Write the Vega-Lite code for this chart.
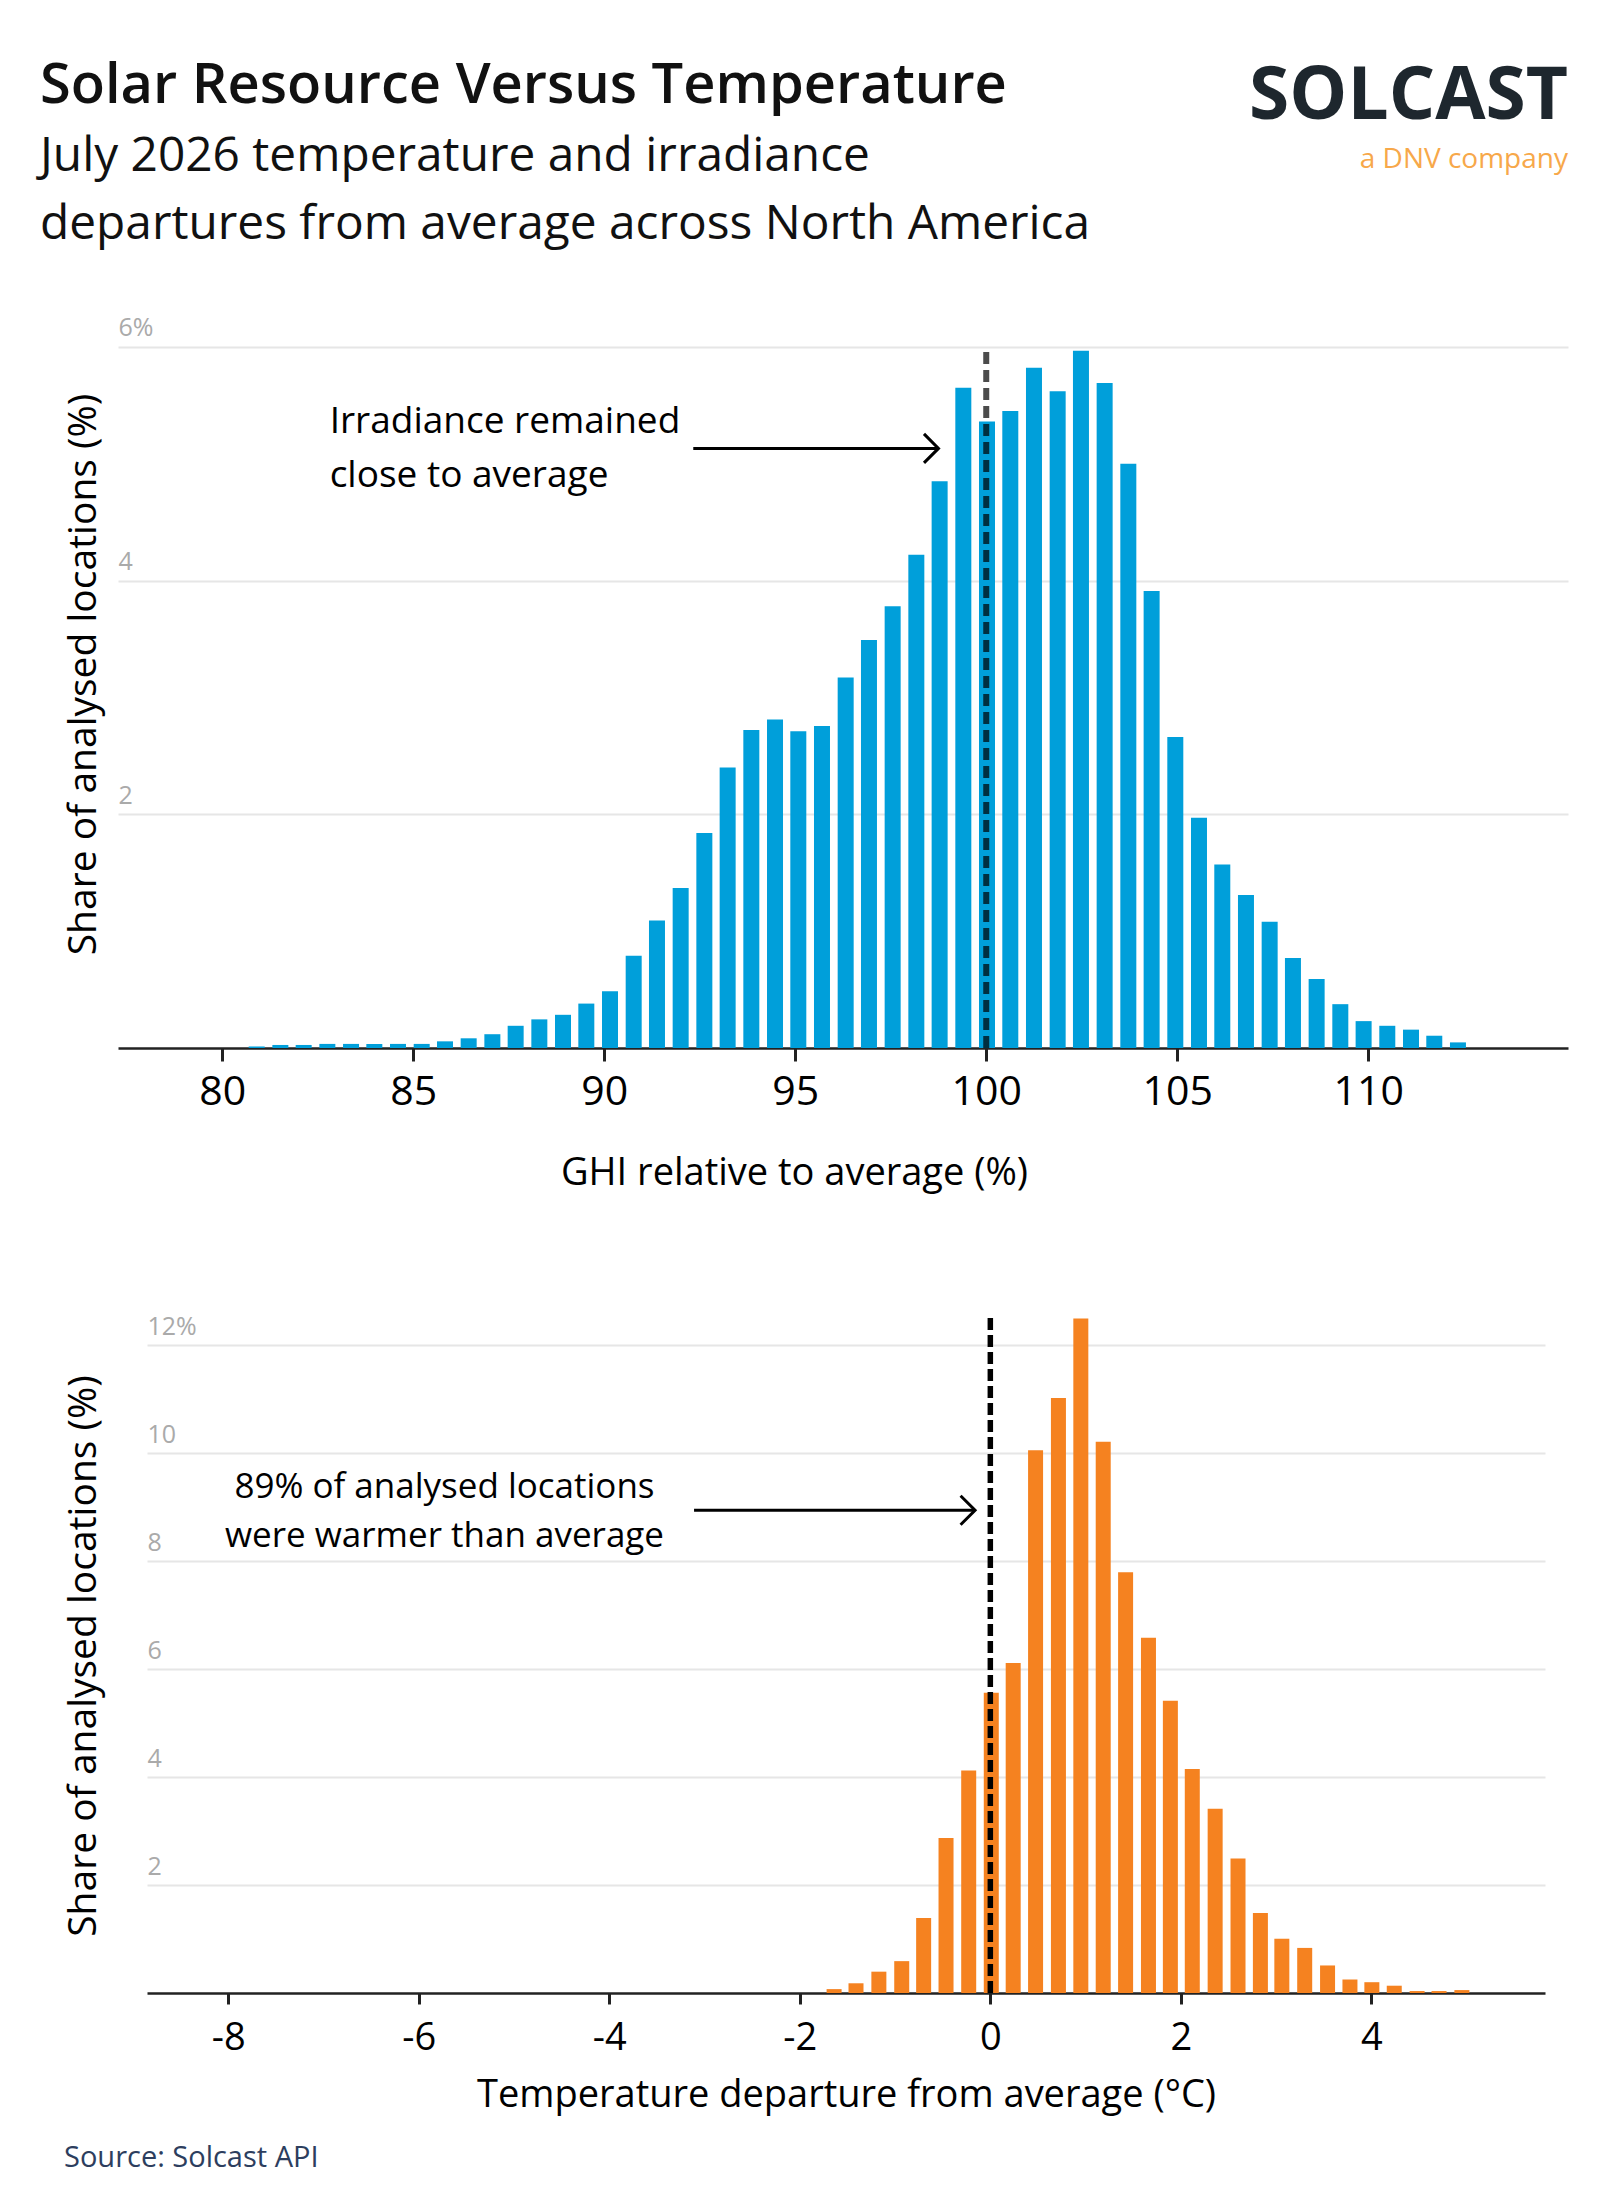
{
  "$schema": "https://vega.github.io/schema/vega-lite/v6.json",
  "usermeta": {"embedOptions": {"actions": false}},
  "background": "white",
  "padding": {"left": 40, "top": 58, "right": 45, "bottom": 30},
  "title": {
    "text": "Solar Resource Versus Temperature",
    "subtitle": ["July 2026 temperature and irradiance", "departures from average across North America"],
    "anchor": "start",
    "frame": "bounds",
    "dx": -24,
    "offset": -189,
    "fontSize": 56,
    "fontWeight": 600,
    "color": "#111111",
    "subtitleFontSize": 47.8,
    "subtitleFontWeight": "normal",
    "subtitleColor": "#111111",
    "subtitleLineHeight": 68,
    "subtitlePadding": 18
  },
  "columns": 1,
  "spacing": 122,
  "concat": [
    {
      "width": 1450,
      "height": 748,
      "title": {
        "text": "SOLCAST",
        "subtitle": "a DNV company",
        "anchor": "end",
        "frame": "group",
        "orient": "top",
        "fontSize": 73,
        "fontWeight": "bold",
        "color": "#1e272e",
        "subtitleFontSize": 28,
        "subtitleColor": "#f7a84a",
        "subtitlePadding": 12,
        "offset": 126
      },
      "data": {"values": [
        {"ghi": 80.90, "share": 0.013}, {"ghi": 81.52, "share": 0.026}, {"ghi": 82.13, "share": 0.026},
        {"ghi": 82.75, "share": 0.035}, {"ghi": 83.37, "share": 0.035}, {"ghi": 83.98, "share": 0.035},
        {"ghi": 84.60, "share": 0.035}, {"ghi": 85.22, "share": 0.035}, {"ghi": 85.83, "share": 0.057},
        {"ghi": 86.45, "share": 0.083}, {"ghi": 87.07, "share": 0.118}, {"ghi": 87.68, "share": 0.19},
        {"ghi": 88.30, "share": 0.245}, {"ghi": 88.92, "share": 0.284}, {"ghi": 89.53, "share": 0.38},
        {"ghi": 90.15, "share": 0.485}, {"ghi": 90.77, "share": 0.79}, {"ghi": 91.38, "share": 1.09},
        {"ghi": 92.00, "share": 1.37}, {"ghi": 92.62, "share": 1.84}, {"ghi": 93.23, "share": 2.40},
        {"ghi": 93.85, "share": 2.72}, {"ghi": 94.47, "share": 2.81}, {"ghi": 95.08, "share": 2.71},
        {"ghi": 95.70, "share": 2.755}, {"ghi": 96.32, "share": 3.17}, {"ghi": 96.93, "share": 3.49},
        {"ghi": 97.55, "share": 3.78}, {"ghi": 98.17, "share": 4.22}, {"ghi": 98.78, "share": 4.85},
        {"ghi": 99.40, "share": 5.65}, {"ghi": 100.02, "share": 5.36}, {"ghi": 100.63, "share": 5.45},
        {"ghi": 101.25, "share": 5.82}, {"ghi": 101.87, "share": 5.62}, {"ghi": 102.48, "share": 5.965},
        {"ghi": 103.10, "share": 5.69}, {"ghi": 103.72, "share": 5.00}, {"ghi": 104.33, "share": 3.91},
        {"ghi": 104.95, "share": 2.66}, {"ghi": 105.57, "share": 1.97}, {"ghi": 106.18, "share": 1.57},
        {"ghi": 106.80, "share": 1.31}, {"ghi": 107.42, "share": 1.08}, {"ghi": 108.03, "share": 0.77},
        {"ghi": 108.65, "share": 0.59}, {"ghi": 109.27, "share": 0.375}, {"ghi": 109.88, "share": 0.23},
        {"ghi": 110.50, "share": 0.19}, {"ghi": 111.12, "share": 0.157}, {"ghi": 111.73, "share": 0.105},
        {"ghi": 112.35, "share": 0.048}
      ]},
      "layer": [
        {
          "mark": {"type": "bar", "size": 16, "color": "#009fda"},
          "encoding": {
            "x": {
              "field": "ghi", "type": "quantitative",
              "scale": {"domain": [77.4, 115.1], "nice": false, "zero": false},
              "axis": {
                "title": "GHI relative to average (%)",
                "values": [80, 85, 90, 95, 100, 105, 110],
                "grid": false, "tickSize": 13, "labelFontSize": 41, "labelPadding": 11,
                "labelFlush": false, "titleFontSize": 38, "titlePadding": 42, "titleX": 676
              }
            },
            "y": {
              "field": "share", "type": "quantitative",
              "scale": {"domain": [0, 6.4], "nice": false},
              "axis": {
                "title": "Share of analysed locations (%)",
                "values": [2, 4, 6],
                "grid": true, "ticks": false, "domain": false,
                "labelAlign": "left", "labelBaseline": "alphabetic", "labelPadding": 0, "labelOffset": -11,
                "labelFontSize": 25, "labelColor": "#aaaaaa",
                "labelExpr": "datum.value == 6 ? '6%' : '' + datum.value",
                "titleFontSize": 39, "titlePadding": 15
              }
            }
          }
        },
        {
          "data": {"values": [{}]},
          "mark": {"type": "rule", "strokeDash": [12, 6], "strokeWidth": 6, "color": "#000000", "opacity": 0.7},
          "encoding": {"x": {"datum": 100}, "y": {"datum": 0}, "y2": {"datum": 6}}
        },
        {
          "data": {"values": [{}]},
          "mark": {"type": "rule", "strokeWidth": 3, "color": "#000000"},
          "encoding": {"x": {"datum": 92.33}, "x2": {"datum": 98.75}, "y": {"datum": 5.13}}
        },
        {
          "data": {"values": [{}]},
          "mark": {"type": "point", "shape": "M-1,-1L0,0L-1,1", "size": 841, "filled": false, "stroke": "#000000", "strokeWidth": 3, "opacity": 1},
          "encoding": {"x": {"datum": 98.75}, "y": {"datum": 5.13}}
        },
        {
          "data": {"values": [{}]},
          "mark": {"type": "text", "align": "left", "baseline": "middle", "fontSize": 37, "fontWeight": 400, "lineHeight": 54, "color": "#000000"},
          "encoding": {"x": {"datum": 82.81}, "y": {"datum": 5.36}, "text": {"value": ["Irradiance remained", "close to average"]}}
        }
      ]
    },
    {
      "width": 1427,
      "height": 675,
      "title": {
        "text": "Source: Solcast API",
        "orient": "bottom",
        "anchor": "start",
        "frame": "bounds",
        "fontSize": 29,
        "fontWeight": "normal",
        "color": "#2d3e5e",
        "offset": 30
      },
      "data": {"values": [
        {"temp": -1.64, "share": 0.072}, {"temp": -1.41, "share": 0.18}, {"temp": -1.17, "share": 0.395},
        {"temp": -0.93, "share": 0.59}, {"temp": -0.70, "share": 1.39}, {"temp": -0.465, "share": 2.87},
        {"temp": -0.227, "share": 4.12}, {"temp": 0.01, "share": 5.56}, {"temp": 0.24, "share": 6.11},
        {"temp": 0.475, "share": 10.05}, {"temp": 0.715, "share": 11.02}, {"temp": 0.95, "share": 12.49},
        {"temp": 1.185, "share": 10.21}, {"temp": 1.42, "share": 7.79}, {"temp": 1.66, "share": 6.58},
        {"temp": 1.89, "share": 5.41}, {"temp": 2.12, "share": 4.15}, {"temp": 2.36, "share": 3.41},
        {"temp": 2.60, "share": 2.49}, {"temp": 2.835, "share": 1.48}, {"temp": 3.06, "share": 1.005},
        {"temp": 3.30, "share": 0.835}, {"temp": 3.54, "share": 0.51}, {"temp": 3.775, "share": 0.25},
        {"temp": 4.005, "share": 0.20}, {"temp": 4.24, "share": 0.135}, {"temp": 4.48, "share": 0.036},
        {"temp": 4.71, "share": 0.036}, {"temp": 4.95, "share": 0.054}
      ]},
      "layer": [
        {
          "mark": {"type": "bar", "size": 15, "color": "#f58220"},
          "encoding": {
            "x": {
              "field": "temp", "type": "quantitative",
              "scale": {"domain": [-8.8, 5.77], "range": [29, 1427], "nice": false, "zero": false},
              "axis": {
                "title": "Temperature departure from average (°C)",
                "values": [-8, -6, -4, -2, 0, 2, 4],
                "labelExpr": "'' + datum.value",
                "grid": false, "tickSize": 11, "labelFontSize": 38, "labelPadding": 15,
                "labelFlush": false, "titleFontSize": 38, "titlePadding": 19
              }
            },
            "y": {
              "field": "share", "type": "quantitative",
              "scale": {"domain": [0, 12.5], "nice": false},
              "axis": {
                "title": "Share of analysed locations (%)",
                "values": [2, 4, 6, 8, 10, 12],
                "grid": true, "ticks": false, "domain": false,
                "labelAlign": "left", "labelBaseline": "alphabetic", "labelPadding": -29, "labelOffset": -11,
                "labelFontSize": 25, "labelColor": "#aaaaaa",
                "labelExpr": "datum.value == 12 ? '12%' : '' + datum.value",
                "titleFontSize": 39, "titlePadding": 15
              }
            }
          }
        },
        {
          "data": {"values": [{}]},
          "mark": {"type": "rule", "strokeDash": [12, 5], "strokeWidth": 5.5, "color": "#000000", "opacity": 1},
          "encoding": {"x": {"datum": 0}, "y": {"datum": 0}, "y2": {"datum": 12.5}}
        },
        {
          "data": {"values": [{}]},
          "mark": {"type": "rule", "strokeWidth": 3, "color": "#000000"},
          "encoding": {"x": {"datum": -3.11}, "x2": {"datum": -0.16}, "y": {"datum": 8.94}}
        },
        {
          "data": {"values": [{}]},
          "mark": {"type": "point", "shape": "M-1,-1L0,0L-1,1", "size": 841, "filled": false, "stroke": "#000000", "strokeWidth": 3, "opacity": 1},
          "encoding": {"x": {"datum": -0.16}, "y": {"datum": 8.94}}
        },
        {
          "data": {"values": [{}]},
          "mark": {"type": "text", "align": "center", "baseline": "middle", "fontSize": 35, "fontWeight": 400, "lineHeight": 49, "color": "#000000"},
          "encoding": {"x": {"datum": -5.73}, "y": {"datum": 9.37}, "text": {"value": ["89% of analysed locations", "were warmer than average"]}}
        }
      ]
    }
  ],
  "config": {
    "font": "Open Sans",
    "view": {"stroke": null},
    "axis": {
      "domainColor": "#222222",
      "domainWidth": 2.5,
      "tickColor": "#222222",
      "tickWidth": 3,
      "labelColor": "#000000",
      "titleColor": "#000000",
      "titleFontWeight": "normal",
      "gridColor": "#e6e6e6",
      "gridWidth": 2
    }
  }
}
